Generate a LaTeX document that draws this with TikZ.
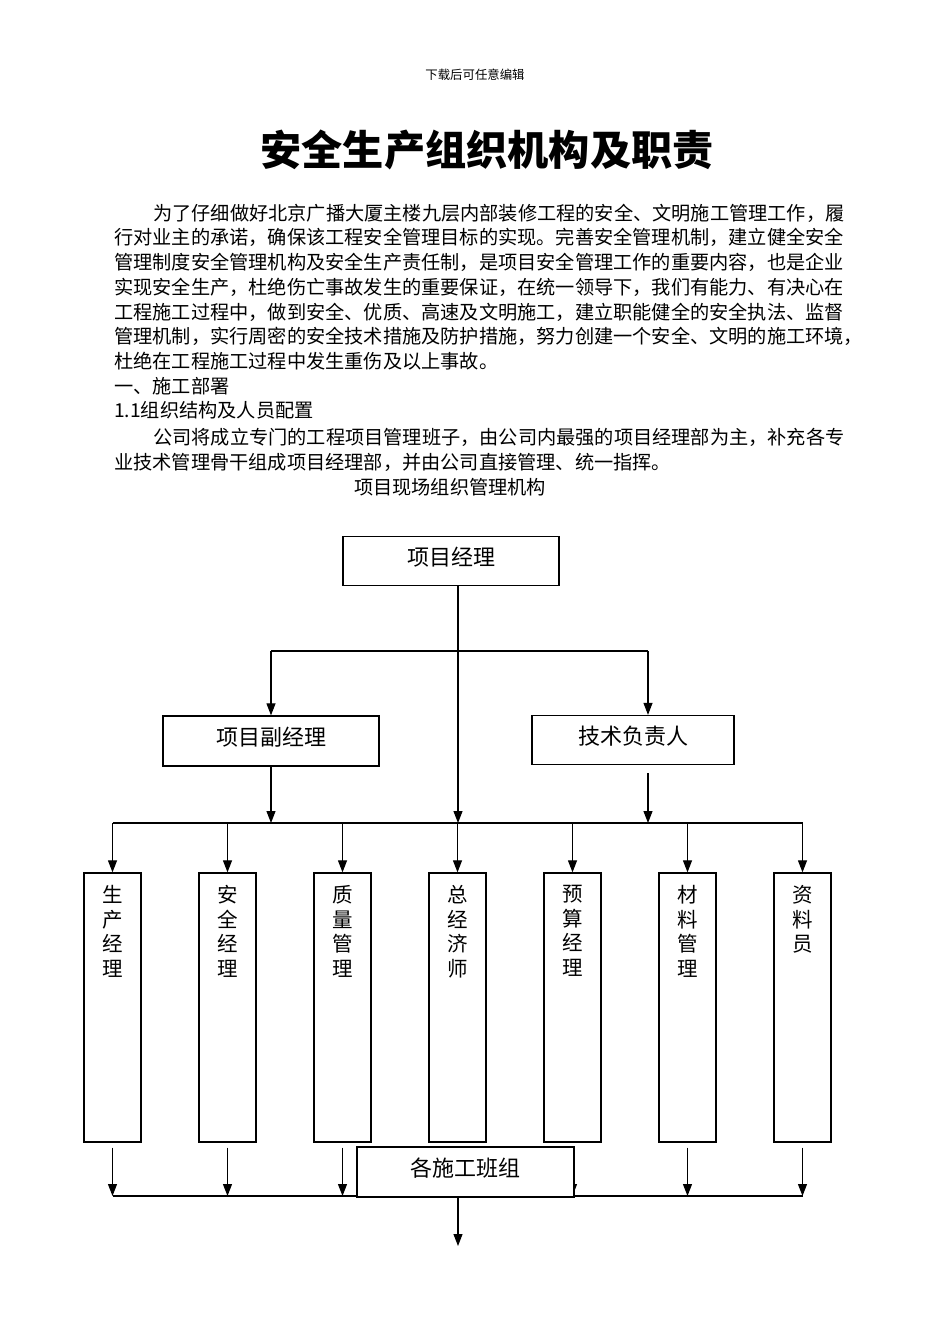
\documentclass[tikz,border=0pt]{standalone}
\usepackage{fontspec}
\setmainfont{Noto Sans CJK SC}
\usetikzlibrary{arrows.meta,positioning}

\begin{document}
\begin{tikzpicture}[
  x=1pt, y=-1pt,
  body_line/.style={inner sep=0pt, font=\fontsize{19.2pt}{25pt}\selectfont},
  org_box/.style={draw, line width=1.3pt, fill=white, minimum height=49pt, inner sep=0pt, text depth=10pt, font=\fontsize{22pt}{26pt}\selectfont},
  tall_box/.style={draw, line width=1.3pt, minimum width=57pt, minimum height=269pt, inner sep=0pt},
  col_text/.style={inner sep=0pt, align=center, font=\fontsize{20.5pt}{24.5pt}\selectfont},
  arrow_line/.style={line width=1.1pt, -{Triangle[length=12pt, width=9pt]}},
  plain_line/.style={line width=1.1pt},
]
\useasboundingbox (0,0) rectangle (950,1344);
\draw (475,75) node (head) [inner sep=0pt, font=\fontsize{12.4pt}{14pt}\selectfont] {下载后可任意编辑};
\draw (487,150) node (title) [inner sep=0pt, font=\fontsize{41.2pt}{48pt}\selectfont\bfseries] {安全生产组织机构及职责};
\draw (153,213) node (p1) [body_line, right] {为了仔细做好北京广播大厦主楼九层内部装修工程的安全、文明施工管理工作，履};
\draw (114,237) node (p2) [body_line, right] {行对业主的承诺，确保该工程安全管理目标的实现。完善安全管理机制，建立健全安全};
\draw (114,262) node (p3) [body_line, right] {管理制度安全管理机构及安全生产责任制，是项目安全管理工作的重要内容，也是企业};
\draw (114,287) node (p4) [body_line, right] {实现安全生产，杜绝伤亡事故发生的重要保证，在统一领导下，我们有能力、有决心在};
\draw (114,312) node (p5) [body_line, right] {工程施工过程中，做到安全、优质、高速及文明施工，建立职能健全的安全执法、监督};
\draw (114,336) node (p6) [body_line, right] {管理机制，实行周密的安全技术措施及防护措施，努力创建一个安全、文明的施工环境，};
\draw (114,361) node (p7) [body_line, right] {杜绝在工程施工过程中发生重伤及以上事故。};
\draw (114,386) node (sec1) [body_line, right] {一、施工部署};
\draw (114,410) node (sec11) [body_line, right] {1.1组织结构及人员配置};
\draw (153,437) node (q1) [body_line, right] {公司将成立专门的工程项目管理班子，由公司内最强的项目经理部为主，补充各专};
\draw (114,462) node (q2) [body_line, right] {业技术管理骨干组成项目经理部，并由公司直接管理、统一指挥。};
\draw (450,487) node (caption) [body_line] {项目现场组织管理机构};

% chart
\draw (451,561) node (pm) [org_box, minimum width=216pt] {项目经理};
\draw (271,741) node (dpm) [org_box, minimum width=216pt, minimum height=50pt] {项目副经理};
\draw (633,740) node (tech) [org_box, minimum width=202pt] {技术负责人};
\draw (112.5,1007.5) node (b1) [tall_box] {};
\draw (227.5,1007.5) node (b2) [tall_box] {};
\draw (342.5,1007.5) node (b3) [tall_box] {};
\draw (457.5,1007.5) node (b4) [tall_box] {};
\draw (572.5,1007.5) node (b5) [tall_box] {};
\draw (687.5,1007.5) node (b6) [tall_box] {};
\draw (802.5,1007.5) node (b7) [tall_box] {};
\node (t1) [col_text, below=13pt of b1.north] {生\\产\\经\\理};
\node (t2) [col_text, below=13pt of b2.north] {安\\全\\经\\理};
\node (t3) [col_text, below=13pt of b3.north] {质\\量\\管\\理};
\node (t4) [col_text, below=13pt of b4.north] {总\\经\\济\\师};
\node (t5) [col_text, below=13pt of b5.north] {预\\算\\经\\理};
\node (t6) [col_text, below=13pt of b6.north] {材\\料\\管\\理};
\node (t7) [col_text, below=13pt of b7.north] {资\\料\\员};

\coordinate (split) at (458,651);
\coordinate (tech_in) at (648,651);
\coordinate (tech_out) at (648,773);
\coordinate (bus) at (458,823);
\coordinate (low_bus) at (458,1196);
\coordinate (out) at (458,1246);

\draw [arrow_line] (pm.south -| bus) -- (bus);
\draw [plain_line] (dpm.north |- split) -- (tech_in);
\draw [arrow_line] (dpm.north |- split) -- (dpm.north);
\draw [arrow_line] (tech_in) -- (tech_in |- tech.north);
\draw [arrow_line] (dpm.south) -- (dpm.south |- bus);
\draw [arrow_line] (tech_out) -- (tech_out |- bus);

\draw [plain_line] (b1.north |- bus) -- (b7.north |- bus);
\draw [arrow_line] (b1.north |- bus) -- (b1.north);
\draw [arrow_line] (b2.north |- bus) -- (b2.north);
\draw [arrow_line] (b3.north |- bus) -- (b3.north);
\draw [arrow_line] (b4.north |- bus) -- (b4.north);
\draw [arrow_line] (b5.north |- bus) -- (b5.north);
\draw [arrow_line] (b6.north |- bus) -- (b6.north);
\draw [arrow_line] (b7.north |- bus) -- (b7.north);

\draw [arrow_line] ([yshift=-5pt]b1.south) -- (b1.south |- low_bus);
\draw [arrow_line] ([yshift=-5pt]b2.south) -- (b2.south |- low_bus);
\draw [arrow_line] ([yshift=-5pt]b3.south) -- (b3.south |- low_bus);
\draw [arrow_line] ([yshift=-5pt]b4.south) -- (b4.south |- low_bus);
\draw [arrow_line] ([yshift=-5pt]b5.south) -- (b5.south |- low_bus);
\draw [arrow_line] ([yshift=-5pt]b6.south) -- (b6.south |- low_bus);
\draw [arrow_line] ([yshift=-5pt]b7.south) -- (b7.south |- low_bus);
\draw [plain_line] (b1.south |- low_bus) -- (b7.south |- low_bus);

\draw (465.5,1172) node (team) [org_box, minimum width=217pt, minimum height=50pt] {各施工班组};
\draw [arrow_line] (team.south -| out) -- (out);
\end{tikzpicture}
\end{document}
